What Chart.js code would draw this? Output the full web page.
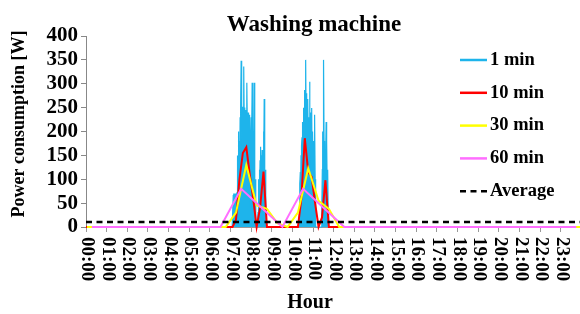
<!DOCTYPE html>
<html>
<head>
<meta charset="utf-8">
<script src="https://cdn.jsdelivr.net/npm/chart.js@4.4.0/dist/chart.umd.min.js"></script>
<style>
  body { margin: 0; background: #fff; }
  canvas { display: block; }
</style>
</head>
<body>
<canvas id="chart" width="580" height="314"></canvas>
<script>
// hour tick labels on the x axis
const hourLabels = ['00:00', '01:00', '02:00', '03:00', '04:00', '05:00', '06:00', '07:00', '08:00', '09:00', '10:00', '11:00',
                    '12:00', '13:00', '14:00', '15:00', '16:00', '17:00', '18:00', '19:00', '20:00', '21:00', '22:00', '23:00'];
const yTicks = [0, 50, 100, 150, 200, 250, 300, 350, 400];

// 1 min readings, first wash cycle (starting 07:05) and second one (starting 10:18)
const oneMinStart1 = 425;
const oneMinWatts1 = [0, 0, 0,
  66, 70, 68, 65, 70, 68, 66, 70, 68, 65, 70, 72,
  90, 150, 60, 200, 120, 70, 180, 90, 230, 160, 250,
  348, 200, 260, 120, 210, 252, 180, 240, 336,
  210, 150, 250, 180, 120, 245, 160, 200, 302,
  200, 120, 240, 90, 180, 130, 80, 235,
  110, 40, 160, 230, 80, 180, 302, 100, 210, 60, 170, 120, 302,
  150, 50, 100, 30, 10, 0, 0, 0, 0, 0,
  30, 60, 100, 80, 120, 60, 140, 168,
  90, 150, 40, 120, 161, 100, 140, 60, 200, 130, 268,
  150, 80, 120, 40, 20, 0, 0, 0];
const oneMinStart2 = 618;
const oneMinWatts2 = [0, 0, 20, 60, 90, 115,
  80, 150, 110, 170, 188, 140, 220, 160, 250, 190, 230, 287,
  200, 260, 230, 350, 210, 280, 150, 240, 190, 268,
  180, 230, 140, 210, 304, 200, 150, 240, 170, 120, 249,
  160, 90, 200, 130, 60, 180, 110, 150, 235, 100, 40,
  0, 0, 0, 0, 0, 0, 0, 0, 0, 0, 0, 0, 0, 0, 0, 0, 0, 0,
  40, 120, 200, 160, 240, 350, 180, 120, 90, 150, 60, 130, 220,
  140, 180, 90, 60, 120, 30, 10, 0, 0, 0];

// 10 min averages (minute of day, W)
const tenMinTimes = [0, 416, 426, 436, 446, 456, 466, 476, 486, 496, 506, 516, 526,
                     606, 616, 626, 636, 646, 656, 666, 676, 686, 696, 706, 716, 1440];
const tenMinWatts = [0, 0, 0, 15, 100, 155, 167, 110, 60, 0, 40, 116, 0,
                     0, 0, 60, 186, 115, 105, 50, 0, 20, 98, 0, 0, 0];

// 30 min averages
const thirtyMinTimes = [3, 406, 436, 466, 496, 526, 556, 586, 616, 646, 676, 706, 736, 1440];
const thirtyMinWatts = [0, 0, 30, 130, 45, 38, 8, 0, 30, 123, 55, 38, 0, 0];

// 60 min averages
const sixtyMinTimes = [17, 391, 451, 511, 571, 631, 691, 751, 1425];
const sixtyMinWatts = [0, 0, 80, 40, 0, 80, 40, 0, 0];

// daily average
const averageWatts = 10.5;

const serif = "'Liberation Serif', 'Times New Roman', serif";

let toPoints = function (times, values) {
  return times.map((t, i) => ({ x: t, y: values[i] }));
};

let oneMinPoints = [{ x: 0, y: 0 }]
  .concat(oneMinWatts1.map((v, i) => ({ x: oneMinStart1 + i, y: v })))
  .concat(oneMinWatts2.map((v, i) => ({ x: oneMinStart2 + i, y: v })))
  .concat([{ x: 1440, y: 0 }]);

// titles, rotated hour labels and the legend are painted here
const decorations = {
  id: 'decorations',
  afterDraw(chart) {
    const ctx = chart.ctx;
    const xs = chart.scales.x;
    ctx.save();
    ctx.fillStyle = '#000';

    ctx.font = 'bold 23px ' + serif;
    ctx.textAlign = 'center';
    ctx.textBaseline = 'alphabetic';
    ctx.fillText('Washing machine', 314, 31);

    ctx.font = 'bold 20px ' + serif;
    ctx.fillText('Hour', 310, 308);

    ctx.save();
    ctx.font = 'bold 18px ' + serif;
    ctx.translate(19, 124);
    ctx.rotate(-Math.PI / 2);
    ctx.textBaseline = 'middle';
    ctx.fillText('Power consumption [W]', 0, 0);
    ctx.restore();

    ctx.font = 'bold 19px ' + serif;
    ctx.textAlign = 'left';
    ctx.textBaseline = 'middle';
    hourLabels.forEach((lab, i) => {
      ctx.save();
      ctx.translate(xs.getPixelForValue(i * 60) + 1, 237);
      ctx.rotate(Math.PI / 2);
      ctx.fillText(lab, 0, 0);
      ctx.restore();
    });

    // legend
    ctx.font = 'bold 18.5px ' + serif;
    chart.data.datasets.forEach((ds, i) => {
      const y = 60 + i * 32.8;
      ctx.beginPath();
      ctx.strokeStyle = ds.borderColor;
      ctx.lineWidth = 2.5;
      ctx.setLineDash(ds.borderDash || []);
      ctx.moveTo(460, y);
      ctx.lineTo(487, y);
      ctx.stroke();
      ctx.setLineDash([]);
      ctx.fillText(ds.label, 490, y);
    });
    ctx.restore();
  }
};

new Chart(document.getElementById('chart'), {
  type: 'line',
  data: {
    datasets: [
      {
        label: '1 min',
        data: oneMinPoints,
        borderColor: 'rgb(30, 180, 235)',
        backgroundColor: 'rgb(30, 180, 235)',
        borderWidth: 1.2,
        fill: 'origin',
        order: 5,
      },
      {
        label: '10 min',
        data: toPoints(tenMinTimes, tenMinWatts),
        borderColor: 'rgb(255, 0, 0)',
        borderWidth: 2,
        order: 4,
      },
      {
        label: '30 min',
        data: toPoints(thirtyMinTimes, thirtyMinWatts),
        borderColor: 'rgb(255, 255, 0)',
        borderWidth: 2,
        order: 3,
      },
      {
        label: '60 min',
        data: toPoints(sixtyMinTimes, sixtyMinWatts),
        borderColor: 'rgb(255, 110, 255)',
        borderWidth: 2,
        order: 2,
      },
      {
        label: 'Average',
        data: toPoints([0, 1436], [averageWatts, averageWatts]),
        borderColor: '#000',
        borderWidth: 2.5,
        borderDash: [6, 4.5],
        order: 1,
      }
    ]
  },
  options: {
    responsive: false,
    animation: false,
    devicePixelRatio: 1,
    layout: { padding: { top: 36, left: 0, right: 0, bottom: 0 } },
    elements: { point: { radius: 0 }, line: { tension: 0 } },
    datasets: { line: { clip: false } },
    plugins: {
      legend: { display: false },
      tooltip: { enabled: false }
    },
    scales: {
      x: {
        type: 'linear',
        min: 0,
        max: 1436,
        afterFit: (s) => { s.height = 87; },
        ticks: { display: false, stepSize: 60, includeBounds: false },
        grid: { drawOnChartArea: false, tickLength: 5, color: '#999' },
        border: { color: '#999' }
      },
      y: {
        min: 0,
        max: 400,
        afterFit: (s) => { s.width = 86; },
        afterBuildTicks: (s) => { s.ticks = yTicks.map(v => ({ value: v })); },
        ticks: {
          color: '#000',
          padding: 3,
          autoSkip: false,
          font: { family: serif, weight: 'bold', size: 21 }
        },
        grid: { drawOnChartArea: false, tickLength: 5, color: '#888' },
        border: { color: '#888' }
      }
    }
  },
  plugins: [decorations]
});
</script>
</body>
</html>
